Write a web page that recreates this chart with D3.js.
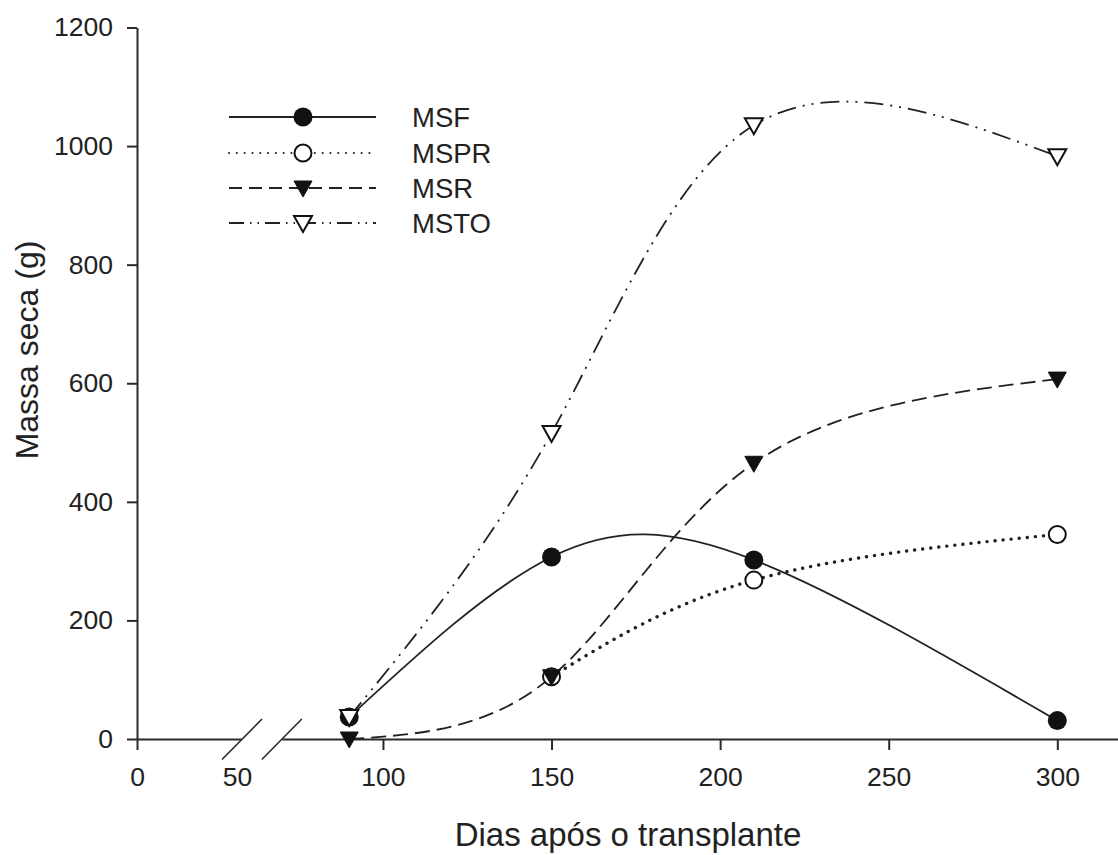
<!DOCTYPE html>
<html>
<head>
<meta charset="utf-8">
<script src="https://cdn.jsdelivr.net/npm/d3@7/dist/d3.min.js"></script>
<style>
  html, body { margin: 0; padding: 0; background: #fff; }
  svg { display: block; font-family: "Liberation Sans", Arial, sans-serif; }
</style>
</head>
<body>
<svg id="chart" width="1118" height="855"></svg>
<script>
// ---- data ----
const days = [90, 150, 210, 300];
const msf = [37, 307, 302, 31];
const msprDays = [150, 210, 300];
const mspr = [105, 268, 345];
const msr = [0, 105, 465, 607];
const msto = [37, 516, 1035, 983];

const xTicksLeft = [0, 50];
const xTicksRight = [100, 150, 200, 250, 300];
const yTicks = [0, 200, 400, 600, 800, 1000, 1200];
const seriesNames = ["MSF", "MSPR", "MSR", "MSTO"];
const xTitle = "Dias após o transplante";
const yTitle = "Massa seca (g)";

// ---- layout ----
const svg = d3.select("#chart");
const ink = "#222";
const axisColor = "#2a2a2a";
const fmt = d3.format("d");

const xa = d3.scaleLinear().domain([0, 50]).range([137, 241]);
const xb = d3.scaleLinear().domain([70, 318]).range([281.8, 1118]);
const y = d3.scaleLinear().domain([0, 1200]).range([739, 27.5]);

// ---- axes ----
const gy = svg.append("g").attr("transform", "translate(137,0)")
  .call(d3.axisLeft(y).tickValues(yTicks).tickFormat(fmt).tickSize(10).tickSizeOuter(0).tickPadding(14));
const gxa = svg.append("g").attr("transform", "translate(0,739)")
  .call(d3.axisBottom(xa).tickValues(xTicksLeft).tickFormat(fmt).tickSize(11).tickSizeOuter(0).tickPadding(17));
const gxb = svg.append("g").attr("transform", "translate(0,739)")
  .call(d3.axisBottom(xb).tickValues(xTicksRight).tickFormat(fmt).tickSize(11).tickSizeOuter(0).tickPadding(17));

[gy, gxa, gxb].forEach(g => {
  g.selectAll("path.domain").attr("stroke", axisColor).attr("stroke-width", 2);
  g.selectAll(".tick line").attr("stroke", axisColor).attr("stroke-width", 2);
  g.selectAll(".tick text").attr("fill", "#222").attr("font-size", 26.5)
    .attr("font-family", "'Liberation Sans', Arial, sans-serif");
});
// no tick mark at 50 (the break sits there)
gxa.selectAll(".tick").filter(d => d === 50).select("line").remove();
gxa.selectAll(".tick").filter(d => d === 50).select("text").attr("dx", -4);

// axis break slashes
[xa(50) + 1, xb(70)].forEach(cx => {
  svg.append("line")
    .attr("x1", cx - 20).attr("y1", 759.5).attr("x2", cx + 20).attr("y2", 719)
    .attr("stroke", axisColor).attr("stroke-width", 1.6);
});

// axis titles
svg.append("text").attr("x", 628).attr("y", 846).attr("text-anchor", "middle")
  .attr("font-size", 33).attr("fill", "#222").text(xTitle);
svg.append("text").attr("transform", "translate(38,350) rotate(-90)")
  .attr("text-anchor", "middle").attr("font-size", 32).attr("fill", "#222").text(yTitle);

// ---- series ----
const X = d => xb(d);
const lineGen = d3.line().x(d => X(d[0])).y(d => y(d[1])).curve(d3.curveNatural);

const styles = {
  MSF:  { dash: null, width: 1.8, cap: "butt" },
  MSPR: { dash: "0.1 8", width: 3.4, cap: "round" },
  MSR:  { dash: "15 7", width: 1.8, cap: "butt" },
  MSTO: { dash: "19 7 2 7 2 7", width: 1.8, cap: "butt" }
};

function drawMarker(g, type, cx, cy) {
  if (type === "MSF") {
    g.append("circle").attr("cx", cx).attr("cy", cy).attr("r", 9.5).attr("fill", "#111");
  } else if (type === "MSPR") {
    g.append("circle").attr("cx", cx).attr("cy", cy).attr("r", 8.5)
      .attr("fill", "#fff").attr("stroke", "#111").attr("stroke-width", 2);
  } else if (type === "MSR") {
    g.append("path").attr("d", "M-9,-7L9,-7L0,9Z")
      .attr("transform", `translate(${cx},${cy})`).attr("fill", "#111")
      .attr("stroke", "#111").attr("stroke-width", 1);
  } else {
    g.append("path").attr("d", "M-9,-7L9,-7L0,9Z")
      .attr("transform", `translate(${cx},${cy})`).attr("fill", "#fff")
      .attr("stroke", "#111").attr("stroke-width", 2);
  }
}

const seriesData = {
  MSF: days.map((d, i) => [d, msf[i]]),
  MSPR: msprDays.map((d, i) => [d, mspr[i]]),
  MSR: days.map((d, i) => [d, msr[i]]),
  MSTO: days.map((d, i) => [d, msto[i]])
};

const plot = svg.append("g");
seriesNames.forEach(name => {
  const st = styles[name];
  plot.append("path").datum(seriesData[name]).attr("d", lineGen)
    .attr("fill", "none").attr("stroke", ink).attr("stroke-width", st.width)
    .attr("stroke-linecap", st.cap)
    .attr("stroke-dasharray", st.dash);
});
seriesNames.forEach(name => {
  seriesData[name].forEach(p => drawMarker(plot, name, X(p[0]), y(p[1])));
});

// ---- legend ----
const legendY = [117, 153, 188, 223];
const legendStyles = {
  MSF:  { dash: null, width: 1.8, cap: "butt" },
  MSPR: { dash: "0.1 7.7", width: 2, cap: "round" },
  MSR:  { dash: "13 7", width: 1.8, cap: "butt" },
  MSTO: { dash: "15 6 1.5 6 1.5 6", width: 1.8, cap: "butt" }
};
const leg = svg.append("g");
seriesNames.forEach((name, i) => {
  const ly = legendY[i];
  const st = legendStyles[name];
  leg.append("line").attr("x1", 229).attr("x2", 376).attr("y1", ly).attr("y2", ly)
    .attr("stroke", ink).attr("stroke-width", st.width).attr("stroke-linecap", st.cap)
    .attr("stroke-dasharray", st.dash);
  drawMarker(leg, name, 303, ly);
  leg.append("text").attr("x", 412).attr("y", ly).attr("dy", "0.36em")
    .attr("font-size", 27.5).attr("fill", "#222").text(name);
});
</script>
</body>
</html>
